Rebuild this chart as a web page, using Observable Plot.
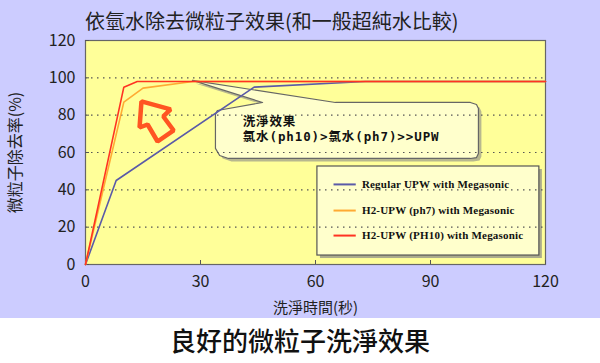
<!DOCTYPE html>
<html><head><meta charset="utf-8">
<script src="https://cdn.jsdelivr.net/npm/d3@7"></script>
<script src="https://cdn.jsdelivr.net/npm/@observablehq/plot@0.6"></script>
<style>
body{margin:0;background:#fff;font-family:'Noto Sans CJK TC',sans-serif;}
#wrap{width:600px;background:#ccccff;}
#title{height:34px;box-sizing:border-box;padding:8px 0 0 85px;font-size:20px;line-height:26px;color:#222;white-space:nowrap;font-weight:400;}
#caption{width:600px;height:45px;text-align:center;font-size:26px;line-height:44px;color:#111;font-weight:500;}
svg{display:block}
</style></head>
<body>
<div id="wrap"><div id="title">依氫水除去微粒子效果(和一般超純水比較)</div><div id="chart"></div></div>
<div id="caption">良好的微粒子洗淨效果</div>
<script>
// ---- data ----
const titleText = "依氫水除去微粒子效果(和一般超純水比較)";
const xLabel = "洗淨時間(秒)";
const yLabel = "微粒子除去率(%)";
const xTicks = [0, 30, 60, 90, 120];
const yTicks = [0, 20, 40, 60, 80, 100, 120];
const gridValues = [20, 40, 60, 80, 100];

const seriesNames = ["Regular UPW with Megasonic", "H2-UPW (ph7) with Megasonic", "H2-UPW (PH10) with Megasonic"];
const seriesColors = ["#5a5aa8", "#ffaa33", "#ff3322"];

const regularTime = [0, 8, 44, 73, 120];
const regularRate = [0, 45, 95, 98, 98];
const ph7Time = [0, 10, 15, 28, 120];
const ph7Rate = [0, 87, 94.5, 98, 98];
const ph10Time = [0, 10, 13.5, 120];
const ph10Rate = [0, 95, 98, 98];

// callout bubble outline (data units)
const calloutX = [34.4, 46.2, 27.9, 65.2, 100.4, 102.0, 102.5, 102.5, 102.0, 100.4, 37.3, 35.0, 33.9, 33.9];
const calloutY = [82.5, 86.8, 98.6, 86.8, 86.8, 85.7, 83.6, 59.5, 57.3, 56.8, 56.8, 58.4, 62.2, 80.4];
const calloutLines = ["洗淨效果", "氯水(ph10)>氯水(ph7)>>UPW"];
const calloutTextX = [41.0, 41.0];
const calloutTextY = [76.2, 68.4];

// hollow arrow outline (data units)
const arrowX = [14.6, 22.2, 20.3, 23.0, 18.8, 16.2, 14.1];
const arrowY = [87.4, 83.1, 79.3, 71.8, 65.9, 75.0, 73.4];

// legend box (data units)
const legendBoxX = [60.5, 118.4];
const legendBoxY = [4.8, 52.5];
const legendLineX = [64.7, 70.5];
const legendRowY = [42.9, 28.9, 15.5];
const legendTextX = 72.1;

// ---- build ----
const mk = (xs, ys) => xs.map((x, i) => ({x, y: ys[i]}));
const series = [mk(regularTime, regularRate), mk(ph7Time, ph7Rate), mk(ph10Time, ph10Rate)];
const callout = mk(calloutX, calloutY);
const arrow = mk(arrowX, arrowY);
const legendRows = seriesNames.map((name, i) => ({name, color: seriesColors[i], y: legendRowY[i]}));
const legendBox = [{x1: legendBoxX[0], x2: legendBoxX[1], y1: legendBoxY[0], y2: legendBoxY[1]}];
const calloutText = calloutLines.map((t, i) => ({t, x: calloutTextX[i], y: calloutTextY[i]}));

const chart = Plot.plot({
  width: 600,
  height: 284,
  marginLeft: 85,
  marginRight: 55,
  marginTop: 6,
  marginBottom: 54,
  style: {background: "#ccccff", fontFamily: "'Noto Sans CJK TC', sans-serif", color: "#222", overflow: "visible"},
  x: {domain: [0, 120]},
  y: {domain: [0, 120]},
  marks: [
    Plot.frame({fill: "#ffff99", stroke: null}),
    // callout
    Plot.line(callout, {x: "x", y: "y", curve: "linear-closed", fill: "#888", fillOpacity: 0.6, stroke: null, dx: 3, dy: 3}),
    Plot.line(callout, {x: "x", y: "y", curve: "linear-closed", fill: "#ffffcc", stroke: "#666", strokeWidth: 1.2}),
    // legend box
    Plot.rect(legendBox, {x1: "x1", x2: "x2", y1: "y1", y2: "y2", fill: "#888", fillOpacity: 0.7, dx: 3, dy: 3}),
    Plot.rect(legendBox, {x1: "x1", x2: "x2", y1: "y1", y2: "y2", fill: "#ffffcc", stroke: "#555", strokeWidth: 1.2}),
    // grid
    Plot.ruleY(gridValues, {stroke: "#555", strokeDasharray: "1.5,4.5", strokeWidth: 1.2}),
    Plot.frame({stroke: "#666", strokeWidth: 1.2}),
    // axes
    Plot.axisX(xTicks, {tickSize: -4, tickPadding: 15, fontSize: 16, label: null, stroke: "#555"}),
    Plot.axisY(yTicks, {tickSize: -4, tickPadding: 14, fontSize: 16, label: null, stroke: "#555"}),
    Plot.text([xLabel], {frameAnchor: "bottom", textAnchor: "middle", lineAnchor: "bottom", dy: 48, fontSize: 15, fill: "#222"}),
    Plot.text([yLabel], {frameAnchor: "left", textAnchor: "middle", lineAnchor: "middle", dx: -70, rotate: -90, fontSize: 16, fill: "#222"}),
    // arrow
    Plot.line(arrow, {x: "x", y: "y", curve: "linear-closed", stroke: "#ff5522", strokeWidth: 4.5, fill: "none", strokeLinejoin: "miter"}),
    // series
    ...series.map((d, i) => Plot.line(d, {x: "x", y: "y", stroke: seriesColors[i], strokeWidth: 1.6})),
    // callout text
    Plot.text(calloutText, {x: "x", y: "y", text: "t", textAnchor: "start", fontSize: 12.5, fontWeight: "bold", fontFamily: "'DejaVu Sans Mono', 'Noto Sans CJK TC', monospace", fill: "#111"}),
    // legend
    Plot.link(legendRows, {x1: legendLineX[0], x2: legendLineX[1], y1: "y", y2: "y", stroke: "color", strokeWidth: 2}),
    Plot.text(legendRows, {x: legendTextX, y: "y", text: "name", textAnchor: "start", fontSize: 11, fontWeight: "bold", fontFamily: "'Liberation Serif', serif", fill: "#111"})
  ]
});
d3.select(chart).selectAll("text")
  .filter(function() { return calloutLines.includes(this.textContent); })
  .attr("letter-spacing", "0.9");
d3.select(chart).selectAll("text")
  .filter(function() { return seriesNames.includes(this.textContent); })
  .attr("letter-spacing", "0.2");
document.getElementById("chart").appendChild(chart);
</script>
</body></html>
